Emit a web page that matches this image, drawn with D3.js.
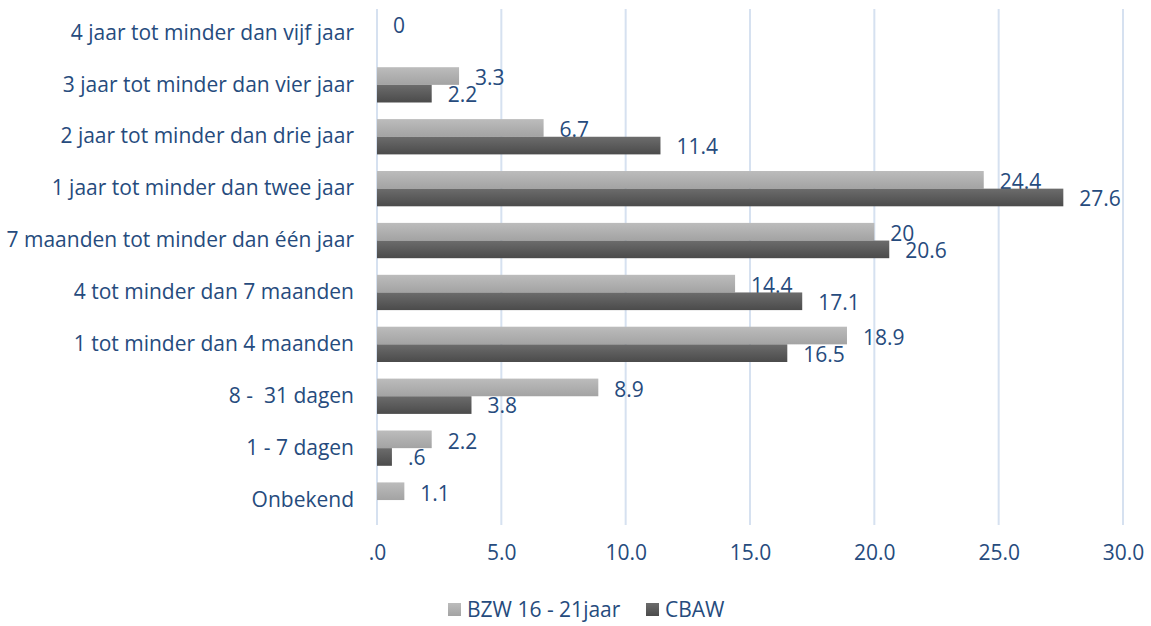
<!DOCTYPE html>
<html><head><meta charset="utf-8">
<script src="https://cdn.jsdelivr.net/npm/d3@7"></script>
<style>body{margin:0;background:#fff}svg{display:block}text{font-family:"Open Sans",sans-serif;fill:#264b7d;white-space:pre}</style>
</head><body>
<svg id="c" width="1151" height="626"></svg>
<script>
const categories = ["4 jaar tot minder dan vijf jaar","3 jaar tot minder dan vier jaar","2 jaar tot minder dan drie jaar","1 jaar tot minder dan twee jaar","7 maanden tot minder dan één jaar","4 tot minder dan 7 maanden","1 tot minder dan 4 maanden","8 -  31 dagen","1 - 7 dagen","Onbekend"];
const seriesNames = ["BZW 16 - 21jaar","CBAW"];
const bzw  = [0, 3.3, 6.7, 24.4, 20, 14.4, 18.9, 8.9, 2.2, 1.1];
const cbaw = [null, 2.2, 11.4, 27.6, 20.6, 17.1, 16.5, 3.8, 0.6, null];
const xTicks = [0, 5, 10, 15, 20, 25, 30];

const FS = 21;
const svg = d3.select("#c");
const defs = svg.append("defs");
function grad(id, c1, c2){
  const g = defs.append("linearGradient").attr("id", id).attr("x1",0).attr("y1",0).attr("x2",0).attr("y2",1);
  g.append("stop").attr("offset","0%").attr("stop-color",c1);
  g.append("stop").attr("offset","100%").attr("stop-color",c2);
}
grad("gL", "#bcbcbc", "#a3a3a3");
grad("gD", "#6c6c6c", "#4b4b4b");
const fills = ["url(#gL)","url(#gD)"];

const x = d3.scaleLinear().domain([0,30]).range([377,1123]);
const y = d3.scaleBand().domain(categories).range([7,526]).paddingInner(0.32).paddingOuter(0.16);
const ySub = d3.scaleBand().domain([0,1]).range([0,y.bandwidth()]);

svg.append("g").selectAll("line").data(xTicks).join("line")
  .attr("x1", d=>x(d)).attr("x2", d=>x(d)).attr("y1", 9).attr("y2", 525)
  .attr("stroke", "#d6e1f0").attr("stroke-width", 2);

const xfmt = v => d3.format(".1f")(v).replace(/^0\./, ".");
const xAxis = d3.axisBottom(x).tickValues(xTicks).tickFormat(xfmt).tickSize(0).tickPadding(0);
const gx = svg.append("g").attr("transform","translate(0,553)").call(xAxis);
gx.select(".domain").remove();
gx.selectAll("text").attr("font-size", FS).attr("dy","0.35em").style("font-family",'"Open Sans"').attr("fill","#264b7d");

const yAxis = d3.axisLeft(y).tickSize(0).tickPadding(0);
const gy = svg.append("g").attr("transform","translate(354,0)").call(yAxis);
gy.select(".domain").remove();
gy.selectAll("text").attr("font-size", FS).style("font-family",'"Open Sans"').style("white-space","pre").attr("fill","#264b7d");

const lfmt = v => String(v).replace(/^0\./, ".");
const data = [bzw, cbaw];
data.forEach((vals, si) => {
  const g = svg.append("g");
  const pts = categories.map((c,i)=>({c, v: vals[i]})).filter(d=>d.v!==null);
  g.selectAll("rect").data(pts).join("rect")
    .attr("x", x(0)).attr("y", d=>y(d.c)+ySub(si))
    .attr("width", d=>x(d.v)-x(0)).attr("height", ySub.bandwidth())
    .attr("fill", fills[si]);
  g.selectAll("text").data(pts).join("text")
    .attr("x", d=>x(d.v)+16).attr("y", d=>y(d.c)+ySub(si)+ySub.bandwidth()/2 + (si===0?2:1))
    .attr("dy","0.35em").attr("font-size", FS).text(d=>lfmt(d.v));
});

const leg = svg.append("g").attr("transform","translate(448,610)");
const items = [{n:seriesNames[0], x:0},{n:seriesNames[1], x:198}];
items.forEach((it,i)=>{
  leg.append("rect").attr("x", it.x).attr("y",-7).attr("width",13).attr("height",13).attr("fill",fills[i]);
  leg.append("text").attr("x", it.x+19).attr("y",0).attr("dy","0.35em").attr("font-size",FS).text(it.n);
});
</script>
</body></html>
